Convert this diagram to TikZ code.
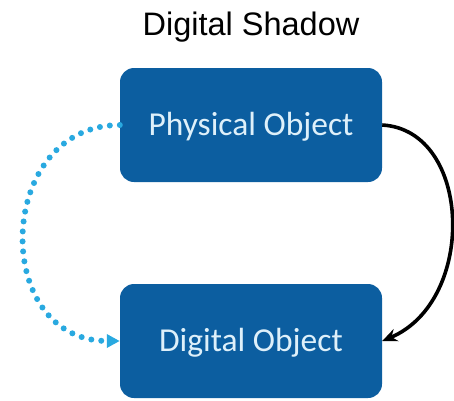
\documentclass[tikz,border=0pt]{standalone}
\usepackage{fontspec}
\setmainfont{Carlito}
\newfontfamily\titlefont{Liberation Sans}
\usetikzlibrary{arrows.meta}
\definecolor{boxblue}{RGB}{12,94,160}
\definecolor{boxtext}{RGB}{222,240,250}
\definecolor{dotblue}{RGB}{41,169,224}
\begin{document}
\begin{tikzpicture}[x=1pt,y=-1pt,
  objbox/.style={draw=none, fill=boxblue, rounded corners=14pt, minimum width=262pt,
    minimum height=114pt, inner sep=0pt, text=boxtext, text height=21pt, text depth=0pt,
    font=\fontsize{33.5}{36}\selectfont},
  flow/.style={line width=3.6pt, -{Stealth[length=15pt,width=13pt]}},
  dotflow/.style={dotblue, line width=6pt, line cap=round, dash pattern=on 0pt off 10pt,
    -{Triangle[length=13pt,width=13pt,line cap=butt]}}]
\useasboundingbox (0,0) rectangle (454,400);
\node[anchor=base, font=\titlefont\fontsize{32.5}{34}\selectfont] (T) at (251,35) {Digital Shadow};
\node[objbox] (P) at (251,125) {Physical Object};
\node[objbox] (D) at (251,341) {Digital Object};
\draw[flow] (P.east) .. controls +(90,5) and +(95,-40) .. (D.east);
\draw[dotflow] (P.west) .. controls +(-125,0) and +(-130,0) .. (D.west);
\end{tikzpicture}
\end{document}
